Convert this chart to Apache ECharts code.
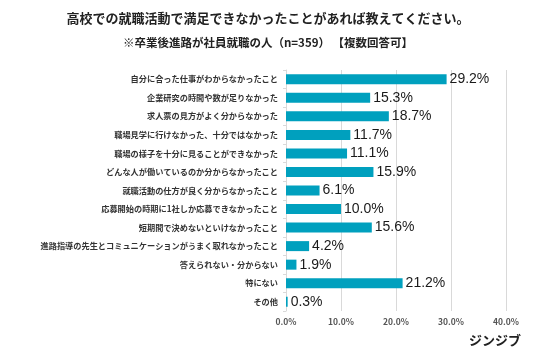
<!DOCTYPE html>
<html><head><meta charset="utf-8">
<script src="https://cdn.jsdelivr.net/npm/echarts@6/dist/echarts.min.js"></script>
<style>html,body{margin:0;padding:0;background:#fff}#c{width:536px;height:354px}</style>
</head><body><div id="c"></div>
<script>
const categories = [
  '自分に合った仕事がわからなかったこと',
  '企業研究の時間や数が足りなかった',
  '求人票の見方がよく分からなかった',
  '職場見学に行けなかった、十分ではなかった',
  '職場の様子を十分に見ることができなかった',
  'どんな人が働いているのか分からなかったこと',
  '就職活動の仕方が良く分からなかったこと',
  '応募開始の時期に1社しか応募できなかったこと',
  '短期間で決めないといけなかったこと',
  '進路指導の先生とコミュニケーションがうまく取れなかったこと',
  '答えられない・分からない',
  '特にない',
  'その他'
];
const values = [29.2, 15.3, 18.7, 11.7, 11.1, 15.9, 6.1, 10.0, 15.6, 4.2, 1.9, 21.2, 0.3];
const xTicks = [0, 10, 20, 30, 40];
const titleText = '高校での就職活動で満足できなかったことがあれば教えてください。';
const subtitleText = '※卒業後進路が社員就職の人（n=359） 【複数回答可】';
const brandText = 'ジンジブ';

const font = '"Noto Sans CJK JP", "Noto Sans", sans-serif';
const chart = echarts.init(document.getElementById('c'), null, {renderer: 'canvas'});
chart.setOption({
  animation: false,
  backgroundColor: '#fff',
  title: [
    {text: titleText, left: 'center', top: 7,
     textStyle: {fontFamily: font, fontSize: 13, fontWeight: 'bold', color: '#222'}},
    {text: subtitleText, left: 'center', top: 32,
     textStyle: {fontFamily: font, fontSize: 11.5, fontWeight: 'bold', color: '#222'}}
  ],
  graphic: [{type: 'text', right: 15, top: 334,
    style: {text: brandText, font: 'bold 13px ' + font, fill: '#222'}}],
  grid: {left: 286, right: 30, top: 70, bottom: 43, containLabel: false},
  xAxis: {
    type: 'value', min: xTicks[0], max: xTicks[xTicks.length - 1], interval: 10,
    axisLine: {show: false}, axisTick: {show: false},
    splitLine: {lineStyle: {color: '#d9d9d9', width: 1}},
    axisLabel: {formatter: v => v.toFixed(1) + '%', fontFamily: font, fontSize: 8.5,
      fontWeight: 'bold', color: '#555', margin: 7}
  },
  yAxis: {
    type: 'category', data: categories, inverse: true,
    axisLine: {lineStyle: {color: '#d9d9d9'}},
    axisTick: {show: true, length: 3, lineStyle: {color: '#d9d9d9'}},
    axisLabel: {fontFamily: font, fontSize: 8.2, fontWeight: 'bold', color: '#333', margin: 8}
  },
  series: [{
    type: 'bar', data: values, barWidth: 10,
    itemStyle: {color: '#00a0be'},
    label: {show: true, position: 'right', distance: 3,
      formatter: p => p.value.toFixed(1) + '%',
      fontFamily: '"Liberation Sans", "Noto Sans", sans-serif', fontSize: 14, color: '#1a1a1a'}
  }]
});
</script></body></html>
